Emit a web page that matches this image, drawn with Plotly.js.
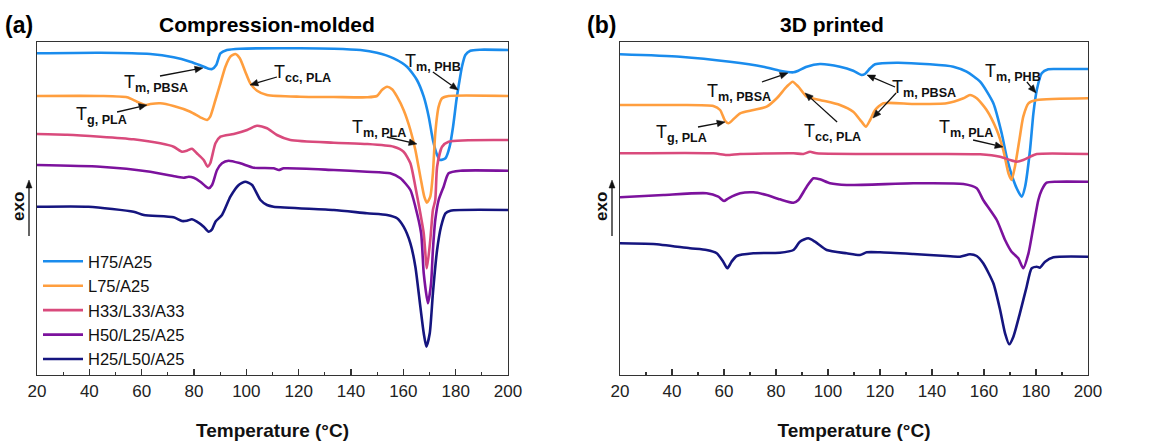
<!DOCTYPE html>
<html><head><meta charset="utf-8">
<script src="https://cdn.plot.ly/plotly-3.0.1.min.js"></script>
<style>body{margin:0;background:#fff}#chart{width:1164px;height:441px}</style>
</head><body><div id="chart"></div>
<script>
// ---- Series names & colours ----
const seriesNames = ["H75/A25","L75/A25","H33/L33/A33","H50/L25/A25","H25/L50/A25"];
const seriesColors = ["#1a8ced","#ff9e3e","#d94a7c","#7c129d","#15157f"];

// ---- Panel (a) Compression-molded : temperature (°C) and heat flow (arb. units, stacked) ----
const aT_H75 = [20,44.2,63.3,72.2,78.6,82.4,85.6,86.9,88.5,90.1,92.6,97.7,120.6,133.4,143.6,149.9,156.3,161.4,165.2,167.8,169.7,171.3,172.9,174.1,176.1,177.7,179.0,180.3,181.3,182.4,183.7,185.6,189.4,200];
const aY_H75 = [321.7,322.3,321,317.7,313.3,309.7,306.3,306,310,321.7,325,326.3,326.7,326.3,325,322.3,316.7,308.3,295,278.3,258.3,235,220,215,216.7,228.3,248.3,275,291.7,308.3,320,324.3,325.3,325];

const aT_L75 = [20,44.2,54.4,58.2,61.4,63.3,67.1,72.2,78.6,82.4,85.0,86.2,88.2,90.1,92.0,93.9,95.8,97.5,99.6,101.5,104.1,107.9,120.6,133.4,146.1,149.9,151.8,153.8,155.7,157.6,160.1,162.7,164.6,166.5,168.0,169.0,170.3,171.3,172.2,173.5,174.8,177.3,200];
const aY_L75 = [279,279,277.7,273.3,270,271,271.7,269,263.3,257.7,255,258.3,275,291.7,308.3,318.3,321,316.7,303.3,291.7,284.3,280,278.3,278,277.7,279,285,288.3,285.7,278.3,265,245,225,198.3,178.3,172.3,178.3,201.7,241.7,268.3,276.7,279,279];

const aT_H33 = [20,31.5,44.2,56.9,67.1,72.2,75.4,77.3,79.2,81.1,83.7,85.2,86.2,88.2,90.1,95.2,100.3,104.1,107.9,111.7,116.8,133.4,146.1,156.3,160.1,162.7,164.6,166.5,167.8,169.0,170.3,171.3,172.2,172.9,174.8,177.3,200];
const aY_H33 = [241,240.3,238.3,235.7,231.7,228.3,223.3,224.3,226.3,221.7,215,208.3,211.7,231.7,238.3,241,245,249.3,246.7,240,235,232.3,231,228.3,223.3,211.7,188.3,161.7,141.7,106.7,135,165,175,208.3,228.3,233.3,235];

const aT_H50 = [20,44.2,63.3,73.5,76.1,78.0,79.9,82.4,84.3,85.6,86.9,88.8,90.7,93.2,97.7,102.8,110.4,112.4,114.3,133.4,146.1,155.0,158.9,162.7,164.6,166.8,167.8,169.4,170.6,171.3,172.2,173.5,175.4,177.3,181.8,200];
const aY_H50 = [210,208.3,203.3,198.3,197.3,198.3,197.3,193.3,189,186.7,190,205,211.7,214.3,211.7,207.3,206.7,205,206.7,205,203.3,201.7,196.7,185,168.3,141.7,101.7,71.7,91.7,125,155,175,188.3,201.7,204.3,204.3];

const aT_H25 = [20,39.7,56.9,60.8,72.2,75.4,77.3,79.2,81.1,83.7,85.6,86.9,88.2,90.7,93.9,97.1,99.6,102.2,105.4,107.9,110.4,133.4,146.1,153.8,157.6,160.1,162.7,164.6,166.5,167.8,168.8,170.1,171.3,172.9,174.4,176.1,178.0,200];
const aY_H25 = [168.3,168.3,163.3,160,157.7,154,154.3,155.7,153.3,148.3,143.3,145.7,153.3,160,178.3,190,193.3,190,175,170,168.3,165,161.7,160,156.7,148.3,131.7,108.3,68.3,41.7,28.3,41.7,81.7,125,148.3,161.7,164.3,165];

// ---- Panel (b) 3D printed ----
const bT_H75 = [20,43.1,62.3,75.1,81.5,86.7,88.6,91.8,96.9,104.6,109.7,112.9,114.2,116.2,118.1,126.4,139.2,148.2,153.3,158.5,163.6,166.8,168.7,171.3,173.2,174.5,175.8,177.7,179.0,180.3,182.2,184.7,187.9,200];
const bY_H75 = [320.7,318.3,313.3,308.3,304.3,302.7,304.3,308.3,311,308.3,304.3,300,301,306.7,310.7,312.3,310.7,308.3,303.3,293.3,271.7,241.7,218.3,195,183.3,178.3,188.3,225,261.7,285,301.7,305.7,306,306];

const bT_L75 = [20,43.1,55.9,58.5,60.4,61.7,63.6,66.2,71.3,76.4,80.3,84.1,86.4,88.6,91.8,96.9,104.6,109.7,112.9,114.6,116.2,118.1,121.3,132.8,145.6,152.1,154.6,157.2,161.0,164.9,167.4,169.4,170.6,171.9,173.6,175.1,177.1,180.3,200];
const bY_L75 = [270,270,269,265,254.3,251.7,255.7,261.7,265,268.3,276.7,288.3,293.3,288.3,278.3,275,270,263.3,253.3,248.3,255,265,271.7,271,271.7,276.7,280,276.7,265,245,225,201.7,195,208.3,235,258.3,271.7,275,276.7];

const bT_H33 = [20,55.9,61.0,66.2,86.7,90.5,93.1,95.6,132.8,158.5,166.2,170.0,172.6,175.1,177.7,180.3,200];
const bY_H33 = [221.7,221.7,220,221,221.7,221,223.3,221.7,221,220.7,218.3,215,213.3,215,218.3,221,221];

const bT_H50 = [20,36.7,53.3,57.8,60.0,61.7,66.2,71.3,76.4,81.5,86.7,88.6,91.8,94.4,96.9,100.8,107.2,132.8,152.1,157.2,159.7,164.9,168.1,170.6,173.2,175.1,177.1,179.0,180.9,182.2,184.1,187.9,200];
const bY_H50 = [177.7,180,181.7,178.3,174,176.7,181.7,182.7,180,175.7,172.3,175,188.3,196.7,195.7,191.7,190,191.7,191,186.7,175,155,135,123.3,116.7,106.7,121.7,148.3,175,185,192.3,193.3,193.3];

const bT_H25 = [20,32.8,46.9,53.3,57.2,59.7,61.3,62.9,64.9,71.3,81.5,86.7,89.2,92.4,95.0,99.5,107.2,112.3,114.9,120.0,132.8,145.6,150.8,154.6,157.2,159.7,163.6,166.2,168.1,169.7,171.3,173.8,176.4,178.3,180.3,181.5,183.5,186.7,200];
const bY_H25 = [131.7,131,126.7,125,121.7,113.3,106.7,113.3,119,121.7,122.3,125,133.3,136.7,133.3,125,121.7,120,122.7,122.7,121,119,118.3,120.7,119,111.7,91.7,65,41.7,30.7,38.3,61.7,88.3,106.7,108.3,107.3,113.3,117.7,118.3];

// ---- Axis ticks ----
const tickValues = [20,40,60,80,100,120,140,160,180,200];
const tickLabels = ["20","40","60","80","100","120","140","160","180","200"];

const panelA = [[aT_H75,aY_H75],[aT_L75,aY_L75],[aT_H33,aY_H33],[aT_H50,aY_H50],[aT_H25,aY_H25]];
const panelB = [[bT_H75,bY_H75],[bT_L75,bY_L75],[bT_H33,bY_H33],[bT_H50,bY_H50],[bT_H25,bY_H25]];

const traces = [];
panelA.forEach((d,i)=>traces.push({x:d[0],y:d[1],name:seriesNames[i],type:'scatter',mode:'lines',
  line:{color:seriesColors[i],width:2.6,shape:'spline',smoothing:0.6},xaxis:'x',yaxis:'y',showlegend:true}));
panelB.forEach((d,i)=>traces.push({x:d[0],y:d[1],name:seriesNames[i],type:'scatter',mode:'lines',
  line:{color:seriesColors[i],width:2.6,shape:'spline',smoothing:0.6},xaxis:'x2',yaxis:'y2',showlegend:false}));

const W=1164,H=441;
const PX={a:[37,508],b:[620,1088]}, PY=[42,375], YR=[0,333], XR=[20,200];
const FONT='"Liberation Sans", Arial, sans-serif';
function xax(dom){return {domain:[dom[0]/W,dom[1]/W],range:XR,tickvals:tickValues,ticktext:tickLabels,ticks:'inside',ticklen:6,tickwidth:1.2,tickcolor:'#333',
  minor:{dtick:10,tick0:20,ticks:'inside',ticklen:3,tickcolor:'#333'},showline:true,mirror:true,linecolor:'#333',linewidth:1.4,
  showgrid:false,zeroline:false,tickfont:{size:17,color:'#222'},
  title:{text:'<b>Temperature (°C)</b>',font:{size:19,color:'#111'},standoff:24}};}
function yax(anchor){return {domain:[1-PY[1]/H,1-PY[0]/H],range:YR,showticklabels:false,ticks:'',showline:true,mirror:true,
  linecolor:'#333',linewidth:1.4,showgrid:false,zeroline:false,anchor:anchor};}

const layout={width:W,height:H,margin:{l:0,r:0,t:0,b:0},paper_bgcolor:'#fff',plot_bgcolor:'#fff',
  font:{family:FONT,color:'#111'},
  xaxis:Object.assign(xax(PX.a),{anchor:'y'}),
  yaxis:yax('x'),
  xaxis2:Object.assign(xax(PX.b),{anchor:'y2'}),
  yaxis2:yax('x2'),
  legend:{x:38/W,y:1-244/H,xanchor:'left',yanchor:'top',bgcolor:'rgba(0,0,0,0)',font:{size:16.5,color:'#111'},itemwidth:40,tracegroupgap:0},
  annotations:[],shapes:[],showlegend:true};

// data -> pixel helpers (for arrows drawn as shapes in paper space)
function toPx(p,T,v){const d=PX[p];return [d[0]+(T-XR[0])/(XR[1]-XR[0])*(d[1]-d[0]), PY[1]-(v-YR[0])/(YR[1]-YR[0])*(PY[1]-PY[0])];}
function arrowPx(x0,y0,x1,y1,len,hw){
  const dx=x1-x0,dy=y1-y0,L=Math.hypot(dx,dy),ux=dx/L,uy=dy/L;
  const bx=x1-ux*len,by=y1-uy*len;
  const P=(x,y)=>(x/W).toFixed(5)+','+(1-y/H).toFixed(5);
  layout.shapes.push({type:'line',xref:'paper',yref:'paper',x0:x0/W,y0:1-y0/H,x1:bx/W,y1:1-by/H,line:{color:'#111',width:1.3}});
  layout.shapes.push({type:'path',xref:'paper',yref:'paper',
    path:'M'+P(x1,y1)+' L'+P(bx-uy*hw,by+ux*hw)+' L'+P(bx+uy*hw,by-ux*hw)+' Z',fillcolor:'#111',line:{color:'#111',width:0.5}});
}
function arr(p,T0,v0,T1,v1){const a=toPx(p,T0,v0),b=toPx(p,T1,v1);arrowPx(a[0],a[1],b[0],b[1],8,3.3);}

const A=layout.annotations;
function head(text,px,py,size){A.push({text:'<b>'+text+'</b>',xref:'paper',yref:'paper',x:px/W,y:1-py/H,showarrow:false,font:{size:size,color:'#000'},xanchor:'center',yanchor:'middle'});}
head('(a)',19,25,23); head('Compression-molded',267,25,21);
head('(b)',601,25,23); head('3D printed',832,25,21);
// exo labels with upward arrows
[[18,29],[601,612]].forEach(p=>{
  A.push({text:'<b>exo</b>',xref:'paper',yref:'paper',x:p[0]/W,y:1-207/H,textangle:-90,showarrow:false,font:{size:17,color:'#111'},xanchor:'center',yanchor:'middle'});
  arrowPx(p[1],236,p[1],180,8,3);
});
// labels (data coords)
function lab(xa,ya,main,sub,tx,ty){A.push({text:main+'<sub><b>'+sub+'</b></sub>',xref:xa,yref:ya,x:tx,y:ty,showarrow:false,font:{size:18,color:'#111'},xanchor:'center',yanchor:'middle'});}
// panel a
lab('x','y','T','m, PBSA',65.5,292); arr('a',67.0,299,83.4,307);
lab('x','y','T','g, PLA',44.5,260); arr('a',50.6,263,62.0,270);
lab('x','y','T','cc, PLA',121.3,302); arr('a',111.7,298,101.4,290);
lab('x','y','T','m, PHB',171.3,313); arr('a',171.3,303,180.9,285);
lab('x','y','T','m, PLA',150.7,247); arr('a',153.7,238,165.2,231);
// panel b
lab('x2','y2','T','m, PBSA',65.8,283); arr('b',74.6,293,84.6,302);
lab('x2','y2','T','m, PBSA',136.9,287); arr('b',125.8,288,115.0,300); arr('b',126.2,282,117.3,257);
lab('x2','y2','T','g, PLA',43.5,242); arr('b',50.0,248,60.4,253);
lab('x2','y2','T','cc, PLA',101.9,243); arr('b',103.5,253,91.2,282);
lab('x2','y2','T','m, PHB',171.2,303); arr('b',176.5,293,180.0,282);
lab('x2','y2','T','m, PLA',153.1,247); arr('b',155.8,235,167.3,228);

Plotly.newPlot('chart',traces,layout,{displayModeBar:false,staticPlot:true});
</script></body></html>
